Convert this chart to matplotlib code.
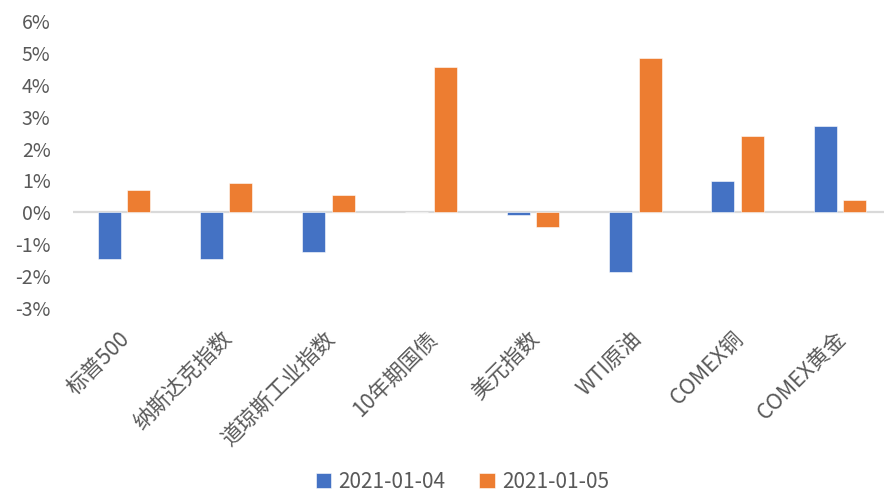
import matplotlib
matplotlib.use('Agg')
import matplotlib.pyplot as plt
import matplotlib.transforms as mtransforms
from matplotlib.ticker import FuncFormatter
import numpy as np

plt.rcParams['font.family'] = ['Noto Sans CJK SC', 'DejaVu Sans']

categories = ['标普500', '纳斯达克指数', '道琼斯工业指数', '10年期国债', '美元指数', 'WTI原油', 'COMEX铜', 'COMEX黄金']
s1_name = '2021-01-04'
s2_name = '2021-01-05'
s1 = [-1.45, -1.45, -1.24, 0.0, -0.08, -1.86, 0.99, 2.70]
s2 = [0.69, 0.93, 0.55, 4.56, -0.46, 4.84, 2.38, 0.39]
yticks = [-3, -2, -1, 0, 1, 2, 3, 4, 5, 6]

blue = '#4472C4'
orange = '#ED7D31'
gray = '#595959'

fig = plt.figure(figsize=(8.84, 4.92), dpi=100)
# plot area runs slightly past the right edge, as in the reference
ax = fig.add_axes([72.8 / 884, 1 - 308 / 492, (891 - 72.8) / 884, (308 - 21) / 492])

x = np.arange(len(categories))
w = 0.225
off = 0.144
ax.bar(x - off, s1, w, color=blue, label=s1_name, edgecolor='white', linewidth=0.4)
ax.bar(x + off, s2, w, color=orange, label=s2_name, edgecolor='white', linewidth=0.4)

ax.set_xlim(-0.5, len(categories) - 0.5)
ax.set_ylim(-3, 6)
ax.axhline(0, color='#D9D9D9', linewidth=1.6, zorder=0)

for s in ax.spines.values():
    s.set_visible(False)

ax.set_yticks(yticks)
ax.yaxis.set_major_formatter(FuncFormatter(lambda v, p: '%d%%' % v))
ax.tick_params(axis='y', length=0, pad=16, labelsize=14, labelcolor=gray)
ax.tick_params(axis='x', length=0, pad=14)
ax.set_xticks(x)
ax.set_xticklabels(categories, rotation=45, ha='right', rotation_mode='anchor',
                   fontsize=15.5, color=gray)
shift = mtransforms.ScaledTranslation(-5 / 100, 0, fig.dpi_scale_trans)
for lbl in ax.get_xticklabels():
    lbl.set_transform(lbl.get_transform() + shift)

fig.legend(loc='center', ncol=2, frameon=False, fontsize=15,
           bbox_to_anchor=(0.523, 1 - 482 / 492), handlelength=0.75, handleheight=0.75,
           columnspacing=1.6, handletextpad=0.35, labelcolor=gray)

fig.savefig('out.png', dpi=100)
